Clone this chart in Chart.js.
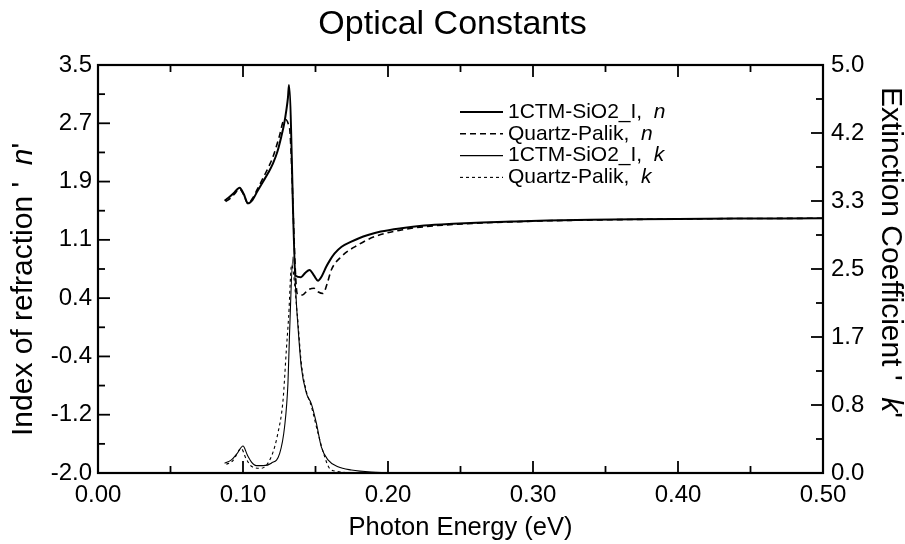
<!DOCTYPE html>
<html><head><meta charset="utf-8">
<script src="https://cdn.jsdelivr.net/npm/chart.js@4.4.1/dist/chart.umd.min.js"></script>
<style>html,body{margin:0;padding:0;background:#fff;}</style>
</head><body>
<canvas id="c" width="905" height="544" style="width:905px;height:544px;display:block"></canvas>
<script>
// ---- data ----
const energyCtmN = [0.0873,0.090,0.0935,0.0977,0.1005,0.1034,0.1065,0.110,0.1138,0.1175,0.1207,0.1237,0.1264,0.1283,0.1299,0.1310,0.1317,0.1363,0.1400,0.1430,0.1459,0.1490,0.1517,0.1545,0.1574,0.1600,0.1632,0.1680,0.1747,0.1800,0.1862,0.1950,0.2092,0.225,0.245,0.265,0.285,0.31,0.34,0.37,0.40,0.44,0.47,0.50];
const nCtm       = [1.67,1.71,1.77,1.846,1.76,1.636,1.68,1.80,1.927,2.05,2.175,2.33,2.533,2.70,2.893,3.06,3.23,0.66,0.64,0.70,0.737,0.66,0.593,0.66,0.78,0.87,0.96,1.05,1.118,1.165,1.208,1.255,1.30,1.335,1.36,1.378,1.39,1.403,1.413,1.42,1.425,1.43,1.432,1.434];

const energyPalikN = [0.0880,0.091,0.0945,0.0975,0.1005,0.1034,0.1065,0.110,0.1149,0.1180,0.1207,0.1253,0.1276,0.1292,0.1315,0.1324,0.1374,0.1410,0.1448,0.1490,0.1520,0.1552,0.1580,0.1609,0.1678,0.1793,0.1908,0.2092,0.225,0.245,0.265,0.285,0.31,0.34,0.37,0.40,0.44,0.47,0.50];
const nPalik       = [1.66,1.70,1.77,1.83,1.75,1.63,1.70,1.83,2.017,2.14,2.264,2.556,2.736,2.768,2.69,2.60,0.42,0.40,0.467,0.49,0.44,0.42,0.55,0.737,0.916,1.074,1.186,1.276,1.32,1.35,1.37,1.385,1.40,1.41,1.418,1.424,1.43,1.432,1.434];

const energyCtmK = [0.0873,0.092,0.096,0.100,0.103,0.106,0.109,0.114,0.1195,0.1253,0.1287,0.1310,0.1321,0.1345,0.1374,0.1402,0.1437,0.1471,0.1506,0.1540,0.1586,0.1655,0.1747,0.1885,0.21,0.25,0.50];
const kCtm       = [0.12,0.16,0.24,0.33,0.22,0.13,0.09,0.09,0.12,0.24,0.57,1.10,1.71,2.65,1.92,1.30,0.98,0.85,0.61,0.32,0.16,0.077,0.037,0.012,0.003,0.0,0.0];

const energyPalikK = [0.0885,0.093,0.0988,0.102,0.106,0.1126,0.1195,0.1241,0.1276,0.1299,0.1315,0.1335,0.1374,0.1402,0.1437,0.1471,0.1517,0.1563,0.1597,0.165,0.18,0.50];
const kPalik       = [0.106,0.15,0.30,0.18,0.08,0.057,0.20,0.49,0.89,1.51,1.92,2.55,1.95,1.35,1.0,0.82,0.49,0.20,0.057,0.02,0.0,0.0];

const xTickLabels = ['0.00','0.10','0.20','0.30','0.40','0.50'];
const nTickLabels = ['-2.0','-1.2','-0.4','0.4','1.1','1.9','2.7','3.5'];
const kTickLabels = ['0.0','0.8','1.7','2.5','3.3','4.2','5.0'];
const seriesNames = ['1CTM-SiO2_I,  ','Quartz-Palik,  ','1CTM-SiO2_I,  ','Quartz-Palik,  '];
const seriesSymbols = ['n','n','k','k'];
const chartTitle = 'Optical Constants';
const xTitle = 'Photon Energy (eV)';
const nTitleParts = ["Index of refraction '  ", 'n', "'"];
const kTitleParts = ["Extinction Coefficient '  ", 'k', "'"];

// ---- build ----
const FONT = "'Liberation Sans', Arial, Helvetica, sans-serif";
Chart.defaults.font.family = FONT;
Chart.defaults.color = '#000';

const pairs = (xs, ys) => xs.map((x, i) => ({x, y: ys[i]}));
const X_MIN = 0, X_MAX = 0.5, N_MIN = -2.0, N_MAX = 3.5, K_MIN = 0, K_MAX = 5.0;
const evenTicks = (labels, min, max) => labels.map((l, i) => ({value: min + i * (max - min) / (labels.length - 1)}));

const inwardTicks = {
  id: 'inwardTicks',
  afterDraw(chart) {
    const {ctx, chartArea: a, scales} = chart;
    ctx.save();
    ctx.strokeStyle = '#000';
    ctx.lineWidth = 1.8;
    const seg = (x1, y1, x2, y2) => { ctx.beginPath(); ctx.moveTo(x1, y1); ctx.lineTo(x2, y2); ctx.stroke(); };
    const MAJ = 12, MIN = 7;
    const xs = scales.x.ticks.map(t => t.value);
    xs.forEach((v, i) => {
      const p = scales.x.getPixelForValue(v);
      seg(p, a.bottom, p, a.bottom - MAJ); seg(p, a.top, p, a.top + MAJ);
      if (i < xs.length - 1) {
        const m = scales.x.getPixelForValue((v + xs[i + 1]) / 2);
        seg(m, a.bottom, m, a.bottom - MIN); seg(m, a.top, m, a.top + MIN);
      }
    });
    const ny = scales.yN.ticks.map(t => t.value);
    ny.forEach((v, i) => {
      const p = scales.yN.getPixelForValue(v);
      seg(a.left, p, a.left + MAJ, p);
      if (i < ny.length - 1) { const m = scales.yN.getPixelForValue((v + ny[i + 1]) / 2); seg(a.left, m, a.left + MIN, m); }
    });
    const ky = scales.yK.ticks.map(t => t.value);
    ky.forEach((v, i) => {
      const p = scales.yK.getPixelForValue(v);
      seg(a.right, p, a.right - MAJ, p);
      if (i < ky.length - 1) { const m = scales.yK.getPixelForValue((v + ky[i + 1]) / 2); seg(a.right, m, a.right - MIN, m); }
    });
    ctx.lineWidth = 2.2;
    ctx.strokeRect(a.left, a.top, a.right - a.left, a.bottom - a.top);
    ctx.restore();
  }
};

function drawParts(ctx, parts, size, align) {
  const fonts = [size + 'px ' + FONT, 'italic ' + size + 'px ' + FONT, size + 'px ' + FONT];
  let total = 0;
  const widths = parts.map((p, i) => { ctx.font = fonts[i]; const w = ctx.measureText(p).width; total += w; return w; });
  let x = align === 'end' ? -total : 0;
  ctx.textAlign = 'left';
  ctx.textBaseline = 'middle';
  parts.forEach((p, i) => { ctx.font = fonts[i]; ctx.fillText(p, x, 0); x += widths[i]; });
}

const axisTitles = {
  id: 'axisTitles',
  afterDraw(chart) {
    const {ctx, chartArea: a} = chart;
    ctx.save();
    ctx.fillStyle = '#000';
    ctx.save();
    ctx.translate(24, a.bottom - 37);
    ctx.rotate(-Math.PI / 2);
    drawParts(ctx, nTitleParts, 30, 'start');
    ctx.restore();
    ctx.save();
    ctx.translate(890, a.bottom - 55);
    ctx.rotate(Math.PI / 2);
    drawParts(ctx, kTitleParts, 30, 'end');
    ctx.restore();
    ctx.restore();
  }
};

const insideLegend = {
  id: 'insideLegend',
  afterDraw(chart) {
    const {ctx} = chart;
    const x0 = 460, x1 = 503, tx = 508, y0 = 112, dy = 21.8;
    ctx.save();
    chart.data.datasets.forEach((ds, i) => {
      const y = y0 + i * dy;
      ctx.strokeStyle = '#000';
      ctx.lineWidth = ds.borderWidth;
      ctx.setLineDash(ds.borderDash || []);
      ctx.beginPath(); ctx.moveTo(x0, y); ctx.lineTo(x1, y); ctx.stroke();
      ctx.setLineDash([]);
      ctx.fillStyle = '#000';
      ctx.textBaseline = 'middle';
      ctx.textAlign = 'left';
      ctx.font = '21px ' + FONT;
      ctx.fillText(seriesNames[i], tx, y);
      const w = ctx.measureText(seriesNames[i]).width;
      ctx.font = 'italic 21px ' + FONT;
      ctx.fillText(seriesSymbols[i], tx + w, y);
    });
    ctx.restore();
  }
};

new Chart(document.getElementById('c'), {
  type: 'line',
  data: {
    datasets: [
      {label: seriesNames[0] + seriesSymbols[0], data: pairs(energyCtmN, nCtm), yAxisID: 'yN', borderColor: '#000', borderWidth: 2, pointRadius: 0, cubicInterpolationMode: 'monotone', fill: false},
      {label: seriesNames[1] + seriesSymbols[1], data: pairs(energyPalikN, nPalik), yAxisID: 'yN', borderColor: '#000', borderWidth: 1.6, borderDash: [6, 4], pointRadius: 0, cubicInterpolationMode: 'monotone', fill: false},
      {label: seriesNames[2] + seriesSymbols[2], data: pairs(energyCtmK, kCtm), yAxisID: 'yK', borderColor: '#000', borderWidth: 1.1, pointRadius: 0, cubicInterpolationMode: 'monotone', fill: false},
      {label: seriesNames[3] + seriesSymbols[3], data: pairs(energyPalikK, kPalik), yAxisID: 'yK', borderColor: '#000', borderWidth: 1.1, borderDash: [3, 3], pointRadius: 0, cubicInterpolationMode: 'monotone', fill: false}
    ]
  },
  options: {
    responsive: false,
    animation: false,
    devicePixelRatio: 1,
    layout: {padding: 0},
    plugins: {
      legend: {display: false},
      tooltip: {enabled: false},
      title: {display: true, text: chartTitle, font: {size: 34, weight: 'normal'}, color: '#000', padding: {top: 4, bottom: 20.2}}
    },
    scales: {
      x: {
        type: 'linear', position: 'bottom', min: X_MIN, max: X_MAX,
        afterBuildTicks: s => { s.ticks = evenTicks(xTickLabels, X_MIN, X_MAX); },
        ticks: {callback: (v, i) => xTickLabels[i], font: {size: 24}, padding: 8, maxRotation: 0, autoSkip: false},
        grid: {drawOnChartArea: false, drawTicks: false},
        border: {color: '#000', width: 2},
        title: {display: true, text: xTitle, font: {size: 25.5}, padding: {top: 0, bottom: 1}},
        afterFit: s => { s.height = 71; }
      },
      yN: {
        type: 'linear', position: 'left', min: N_MIN, max: N_MAX,
        afterBuildTicks: s => { s.ticks = evenTicks(nTickLabels, N_MIN, N_MAX); },
        ticks: {callback: (v, i) => nTickLabels[i], font: {size: 24}, padding: 6, autoSkip: false},
        grid: {drawOnChartArea: false, drawTicks: false},
        border: {color: '#000', width: 2},
        afterFit: s => { s.width = 98; }
      },
      yK: {
        type: 'linear', position: 'right', min: K_MIN, max: K_MAX,
        afterBuildTicks: s => { s.ticks = evenTicks(kTickLabels, K_MIN, K_MAX); },
        ticks: {callback: (v, i) => kTickLabels[i], font: {size: 24}, padding: 8, autoSkip: false},
        grid: {drawOnChartArea: false, drawTicks: false},
        border: {color: '#000', width: 2},
        afterFit: s => { s.width = 82; }
      }
    }
  },
  plugins: [inwardTicks, axisTitles, insideLegend]
});
</script>
</body></html>
